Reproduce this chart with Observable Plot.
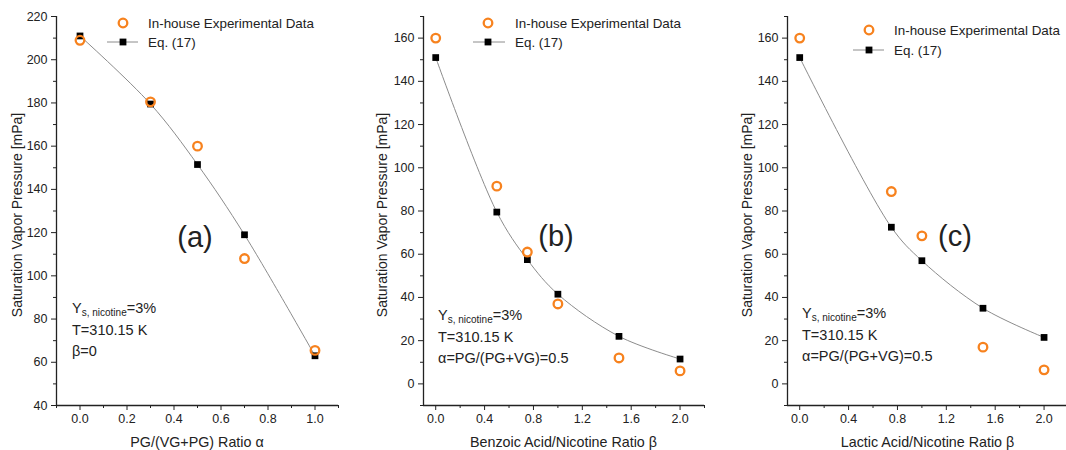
<!DOCTYPE html>
<html>
<head>
<meta charset="utf-8">
<script src="https://cdn.jsdelivr.net/npm/d3@7"></script>
<script src="https://cdn.jsdelivr.net/npm/@observablehq/plot@0.6"></script>
<style>
  html, body { margin: 0; padding: 0; background: #fff; }
  #wrap { position: relative; width: 1066px; height: 450px; overflow: hidden; font-family: "Liberation Sans", Arial, sans-serif; color: #222; }
  .panel { position: absolute; top: 0; }
  .ov { position: absolute; white-space: nowrap; font-size: 14px; line-height: 1; }
  .big { position: absolute; font-size: 29px; line-height: 1; transform: translate(-50%, -50%); }
  .note { position: absolute; font-size: 14.5px; line-height: 21.5px; white-space: nowrap; }
  .note sub { font-size: 10px; vertical-align: -3px; line-height: 0; }
</style>
</head>
<body>
<div id="wrap"></div>
<script>
// ---------- data ----------
const alphaA = [0.0, 0.3, 0.5, 0.7, 1.0];
const expA   = [209, 180.5, 160, 108, 65.5];
const eqA    = [211, 179.5, 151.5, 119, 63];

const betaB  = [0.0, 0.5, 0.75, 1.0, 1.5, 2.0];
const expB   = [160, 91.5, 61, 37, 12, 6];
const eqB    = [151, 79.5, 57.5, 41.5, 22, 11.5];

const betaC  = [0.0, 0.75, 1.0, 1.5, 2.0];
const expC   = [160, 89, 68.5, 17, 6.5];
const eqC    = [151, 72.5, 57, 35, 21.5];

const xLabels = ["PG/(VG+PG) Ratio \u03b1", "Benzoic Acid/Nicotine Ratio \u03b2", "Lactic Acid/Nicotine Ratio \u03b2"];
const yLabel = "Saturation Vapor Pressure [mPa]";
const legendLabels = ["In-house Experimental Data", "Eq. (17)"];
const panelTags = ["(a)", "(b)", "(c)"];
const notes = [
  ["Y<sub>s, nicotine</sub>=3%", "T=310.15 K", "\u03b2=0"],
  ["Y<sub>s, nicotine</sub>=3%", "T=310.15 K", "\u03b1=PG/(PG+VG)=0.5"],
  ["Y<sub>s, nicotine</sub>=3%", "T=310.15 K", "\u03b1=PG/(PG+VG)=0.5"]
];

const ORANGE = "#f7821e";
const LINE = "#8c8c8c";

const panels = [
  { x: alphaA, exp: expA, eq: eqA, xDom: [-0.1, 1.1], yDom: [40, 220],
    xMajor: d3.range(0, 1.01, 0.2), xMinor: d3.range(-0.1, 1.11, 0.2),
    yMajor: d3.range(40, 221, 20), yMinor: d3.range(50, 221, 20),
    left: 0, width: 355, ml: 56, mr: 17, yLabX: 17,
    leg: { cx: 123, cy: 23, ly: 42, lx0: 107, lx1: 138, tx: 148 },
    tag: { x: 195, y: 237 }, note: { x: 72, y: 298 } },
  { x: betaB, exp: expB, eq: eqB, xDom: [-0.1, 2.2], yDom: [-10, 170],
    xMajor: d3.range(0, 2.01, 0.4), xMinor: d3.range(0.2, 2.21, 0.4),
    yMajor: d3.range(0, 161, 20), yMinor: d3.range(-10, 171, 20),
    left: 355, width: 355, ml: 68, mr: 6, yLabX: 382,
    leg: { cx: 488, cy: 23, ly: 42, lx0: 473, lx1: 505, tx: 515 },
    tag: { x: 556, y: 236 }, note: { x: 438, y: 305 } },
  { x: betaC, exp: expC, eq: eqC, xDom: [-0.1, 2.2], yDom: [-10, 170],
    xMajor: d3.range(0, 2.01, 0.4), xMinor: d3.range(0.2, 2.21, 0.4),
    yMajor: d3.range(0, 161, 20), yMinor: d3.range(-10, 171, 20),
    left: 710, width: 380, ml: 77, mr: 22, yLabX: 747,
    leg: { cx: 869, cy: 30, ly: 50, lx0: 853, lx1: 884, tx: 894 },
    tag: { x: 955, y: 236 }, note: { x: 802, y: 303 } }
];

const wrap = document.getElementById("wrap");
const fmt = d3.format(".1f");

panels.forEach((p, i) => {
  const expData = p.x.map((x, k) => ({ x, y: p.exp[k] }));
  const eqData = p.x.map((x, k) => ({ x, y: p.eq[k] }));
  const chart = Plot.plot({
    width: p.width,
    height: 450,
    marginLeft: p.ml,
    marginRight: p.mr,
    marginTop: 16,
    marginBottom: 45,
    style: { fontFamily: "Liberation Sans, Arial, sans-serif", fontSize: "12.5px", color: "#222", background: "transparent", overflow: "visible" },
    x: { domain: p.xDom },
    y: { domain: p.yDom },
    marks: [
      Plot.axisX(p.xMajor, { tickSize: 5, tickPadding: 4, tickFormat: fmt, label: null }),
      Plot.axisX(p.xMinor, { tickSize: 3, tickFormat: () => "", label: null }),
      Plot.axisY(p.yMajor, { tickSize: 5, tickPadding: 4, tickFormat: d => String(d), label: null }),
      Plot.axisY(p.yMinor, { tickSize: 3, tickFormat: () => "", label: null }),
      Plot.ruleX([p.xDom[0]], { stroke: "#222", strokeWidth: 1.3 }),
      Plot.ruleY([p.yDom[0]], { stroke: "#222", strokeWidth: 1.3 }),
      Plot.line(eqData, { x: "x", y: "y", stroke: LINE, strokeWidth: 1, curve: "catmull-rom" }),
      Plot.dot(eqData, { x: "x", y: "y", symbol: "square", r: 3.8, fill: "#000", stroke: "none" }),
      Plot.dot(expData, { x: "x", y: "y", symbol: "circle", r: 4.3, fill: "none", stroke: ORANGE, strokeWidth: 2.3 })
    ]
  });
  chart.classList.add("panel");
  chart.style.left = p.left + "px";
  wrap.appendChild(chart);

  // x-axis title
  const xl = document.createElement("div");
  xl.className = "ov";
  xl.style.fontSize = "14.3px";
  xl.style.left = (p.left + p.ml + (p.width - p.ml - p.mr) / 2) + "px";
  xl.style.top = "442px";
  xl.style.transform = "translate(-50%, -50%)";
  xl.textContent = xLabels[i];
  wrap.appendChild(xl);

  // y-axis title (rotated)
  const yl = document.createElement("div");
  yl.className = "ov";
  yl.style.fontSize = "14px";
  yl.style.left = p.yLabX + "px";
  yl.style.top = "215px";
  yl.style.transform = "translate(-50%, -50%) rotate(-90deg)";
  yl.textContent = yLabel;
  wrap.appendChild(yl);

  // legend
  const L = p.leg;
  const leg = document.createElementNS("http://www.w3.org/2000/svg", "svg");
  leg.setAttribute("width", 1066);
  leg.setAttribute("height", 450);
  leg.style.position = "absolute";
  leg.style.left = "0px";
  leg.style.top = "0px";
  leg.style.pointerEvents = "none";
  leg.innerHTML =
    `<circle cx="${L.cx}" cy="${L.cy}" r="4.3" fill="none" stroke="${ORANGE}" stroke-width="2.3"/>` +
    `<line x1="${L.lx0}" x2="${L.lx1}" y1="${L.ly}" y2="${L.ly}" stroke="${LINE}" stroke-width="1"/>` +
    `<rect x="${L.cx - 3.4}" y="${L.ly - 3.4}" width="6.8" height="6.8" fill="#000"/>` +
    `<text x="${L.tx}" y="${L.cy}" dy="0.35em" font-size="13.4" fill="#222" font-family="Liberation Sans, Arial, sans-serif">${legendLabels[0]}</text>` +
    `<text x="${L.tx}" y="${L.ly}" dy="0.35em" font-size="13.4" fill="#222" font-family="Liberation Sans, Arial, sans-serif">${legendLabels[1]}</text>`;
  wrap.appendChild(leg);

  // panel tag
  const tg = document.createElement("div");
  tg.className = "big";
  tg.style.left = p.tag.x + "px";
  tg.style.top = p.tag.y + "px";
  tg.textContent = panelTags[i];
  wrap.appendChild(tg);

  // notes
  const nt = document.createElement("div");
  nt.className = "note";
  nt.style.left = p.note.x + "px";
  nt.style.top = p.note.y + "px";
  nt.innerHTML = notes[i].join("<br>");
  wrap.appendChild(nt);
});
</script>
</body>
</html>
